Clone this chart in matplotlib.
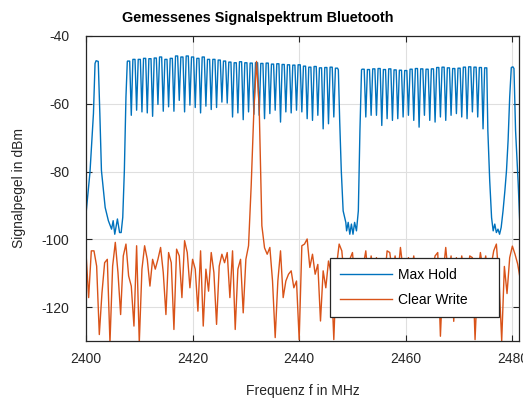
import numpy as np
import matplotlib
matplotlib.use("Agg")
import matplotlib.pyplot as plt

plt.rcParams['font.family'] = ['Liberation Sans', 'DejaVu Sans']
plt.rcParams['axes.unicode_minus'] = False

# Max Hold: Flanke am Anfang (2400 ... 2408 MHz)
mh_lead_f = [2400.0, 2400.75, 2401.4, 2401.7, 2401.9, 2402.3, 2402.6, 2402.9, 2403.6, 2404.2,
             2404.8, 2405.1, 2405.4, 2405.9, 2406.3, 2406.6, 2406.9, 2407.2, 2407.5, 2407.75]
mh_lead_l = [-92.6, -80.2, -62.9, -48.1, -47.3, -47.5, -62.9, -79.7, -90.6, -94.5,
             -97.0, -94.5, -98.5, -94.0, -98.0, -98.0, -93.5, -79.7, -58.0, -47.6]

# Max Hold: Kanalkamm 2408 ... 2447 MHz (Spitzen) und Einbrüche dazwischen
mh_ch1 = np.arange(2408, 2448)
mh_peak1 = [-47.4, -46.9, -46.9, -46.6, -46.7, -46.5, -46.2, -46.9, -46.6, -45.9,
            -46.2, -45.9, -46.2, -46.6, -46.2, -46.9, -46.9, -47.1, -47.4, -47.7,
            -47.9, -47.6, -47.9, -48.0, -47.9, -48.1, -48.0, -48.3, -48.2, -48.4,
            -48.5, -48.6, -48.5, -48.9, -49.2, -49.0, -49.4, -49.3, -49.2, -49.5]
mh_dip1 = [-63.4, -61.9, -62.4, -62.7, -63.7, -60.2, -62.2, -60.9, -62.2, -59.0,
           -62.4, -60.4, -61.1, -62.7, -60.7, -61.7, -61.1, -59.5, -59.8, -63.9,
           -62.7, -64.7, -62.4, -63.1, -63.4, -64.4, -62.9, -61.9, -65.4, -62.4,
           -62.7, -61.9, -62.4, -64.4, -64.9, -63.4, -67.4, -65.9, -63.9]

# Max Hold: Lücke 2447.5 ... 2451.7 MHz
mh_gap_f = [2447.35, 2447.6, 2447.9, 2448.25, 2448.75, 2448.9, 2449.2, 2449.5, 2449.8, 2450.1,
            2450.4, 2450.75, 2451.1, 2451.4, 2451.7]
mh_gap_l = [-50.0, -64.9, -79.7, -91.6, -95.0, -97.5, -95.0, -98.5, -95.5, -98.5,
            -95.0, -97.5, -91.6, -67.9, -50.0]

# Max Hold: Kanalkamm 2452 ... 2475 MHz
mh_ch2 = np.arange(2452, 2476)
mh_peak2 = [-49.8, -49.9, -49.7, -49.6, -49.9, -49.7, -50.0, -50.1, -50.2, -49.8,
            -49.6, -49.7, -49.8, -49.7, -49.3, -49.2, -49.4, -49.6, -49.5, -49.2,
            -49.1, -49.2, -49.3, -49.4]
mh_dip2 = [-63.9, -63.4, -63.4, -66.4, -64.4, -64.9, -64.4, -63.9, -63.4, -64.9,
           -66.9, -63.4, -64.9, -65.4, -63.9, -64.9, -63.4, -62.9, -63.9, -64.4,
           -62.4, -63.9, -67.4]

# Max Hold: Ende 2475.4 ... 2481.8 MHz
mh_tail_f = [2475.4, 2475.75, 2476.1, 2476.4, 2476.7, 2477.0, 2477.3, 2477.6, 2477.9, 2478.25,
             2478.6, 2478.9, 2479.2, 2479.5, 2479.8, 2480.1, 2480.3, 2480.6, 2481.1, 2481.4,
             2481.8]
mh_tail_l = [-67.9, -82.7, -93.6, -97.5, -95.5, -98.0, -97.0, -98.5, -96.5, -91.6,
             -85.6, -79.7, -70.8, -58.0, -49.3, -49.1, -49.6, -67.9, -83.7, -95.5,
             -98.0]

# Clear Write: Pegel alle 0.5 MHz ab 2400 MHz
cw_start = 2400.0
cw_step = 0.5
cw_level = [
    -103.9, -117.2, -103.4, -103.4, -107.9, -128.1, -115.8, -106.9, -105.9, -130.5,  # 2400
    -107.9, -100.9, -109.8, -122.2, -104.9, -101.4, -110.8, -113.8, -125.6, -101.9,  # 2405
    -130.5, -108.8, -101.9, -105.9, -113.8, -105.9, -108.8, -105.9, -102.4, -109.8,  # 2410
    -122.2, -103.9, -106.9, -126.6, -102.9, -104.9, -117.2, -100.4, -103.9, -114.3,  # 2415
    -105.9, -108.8, -121.2, -103.4, -125.6, -108.8, -115.3, -103.9, -109.8, -125.1,  # 2420
    -107.9, -104.4, -106.9, -103.9, -117.2, -103.4, -126.6, -108.8, -105.9, -121.7,  # 2425
    -105.9, -101.9, -84.0, -62.0, -47.5, -61.0, -96.0, -102.5, -104.4, -102.4,       # 2430
    -112.3, -129.0, -112.3, -103.4, -117.2, -112.3, -110.3, -109.3, -114.3, -112.3,  # 2435
    -129.6, -101.9, -101.4, -99.9, -108.3, -104.4, -110.3, -107.4, -124.1, -109.3,   # 2440
    -114.3, -106.4, -110.0, -129.6, -108.0, -101.4, -103.4, -112.0, -108.0, -105.9,  # 2445
    -103.9, -113.0, -109.0, -115.0, -108.0, -103.4, -112.0, -104.9, -110.0, -105.4,  # 2450
    -114.0, -108.0, -112.0, -103.4, -103.9, -110.0, -104.9, -111.0, -102.4, -109.0,  # 2455
    -114.0, -105.4, -110.0, -104.9, -112.0, -105.9, -110.0, -115.0, -108.0, -112.0,  # 2460
    -109.0, -104.9, -103.9, -128.6, -110.0, -102.4, -111.0, -104.9, -124.2, -105.4,  # 2465
    -112.0, -104.9, -110.0, -113.0, -104.9, -105.4, -129.6, -111.0, -103.9, -109.0,  # 2470
    -104.9, -112.0, -108.0, -103.4, -101.4, -112.0, -130.0, -108.0, -116.0, -105.4,  # 2475
    -102.0, -104.4, -107.3, -112.0,                                                  # 2480
]


def kamm(kanaele, spitzen, einbrueche):
    f, l = [], []
    for i, k in enumerate(kanaele):
        f += [k - 0.2, k + 0.2]
        l += [spitzen[i], spitzen[i]]
        if i < len(einbrueche):
            f.append(k + 0.5)
            l.append(einbrueche[i])
    return f, l


k1_f, k1_l = kamm(mh_ch1, mh_peak1, mh_dip1)
k2_f, k2_l = kamm(mh_ch2, mh_peak2, mh_dip2)
mh_f = mh_lead_f + k1_f + mh_gap_f + k2_f + mh_tail_f
mh_l = mh_lead_l + k1_l + mh_gap_l + k2_l + mh_tail_l

cw_f = cw_start + cw_step * np.arange(len(cw_level))

fig = plt.figure(figsize=(5.23, 3.99), dpi=100)
ax = fig.add_axes([0.1644, 0.1454, 0.828, 0.7644])

ax.plot(mh_f, mh_l, color='#0072BD', linewidth=1.0, label='Max Hold')
ax.plot(cw_f, cw_level, color='#D95319', linewidth=1.0, label='Clear Write')

ax.set_xlim(2400, 2481.25)
ax.set_ylim(-130, -40)
ax.set_xticks([2400, 2420, 2440, 2460, 2480])
ax.set_yticks([-120, -100, -80, -60, -40])
ax.grid(True, color='#dfdfdf', linewidth=0.8)
ax.set_axisbelow(True)
ax.tick_params(direction='in', top=True, right=True, length=4, width=0.8,
               color='#262626', labelsize=10, labelcolor='#262626')
ax.tick_params(axis='y', pad=12)
ax.tick_params(axis='x', pad=8)
for s in ax.spines.values():
    s.set_color('#262626')
    s.set_linewidth(0.9)

ax.set_xlabel('Frequenz f in MHz', fontsize=10, color='#262626', labelpad=13)
ax.set_ylabel('Signalpegel in dBm', fontsize=10, color='#262626', labelpad=11)
fig.text(0.493, 0.955, 'Gemessenes Signalspektrum Bluetooth', fontsize=10.4,
         fontweight='bold', ha='center', va='center', color='#000000')

leg = ax.legend(loc='lower left', bbox_to_anchor=(0.563, 0.079, 0.391, 0.19),
                mode='expand', borderaxespad=0, fontsize=10, frameon=True,
                fancybox=False, framealpha=1, edgecolor='#262626', handlelength=3.8,
                handletextpad=0.4, labelspacing=0.8, borderpad=0.7)
leg.get_frame().set_linewidth(0.9)

fig.savefig('out.png', dpi=100)
